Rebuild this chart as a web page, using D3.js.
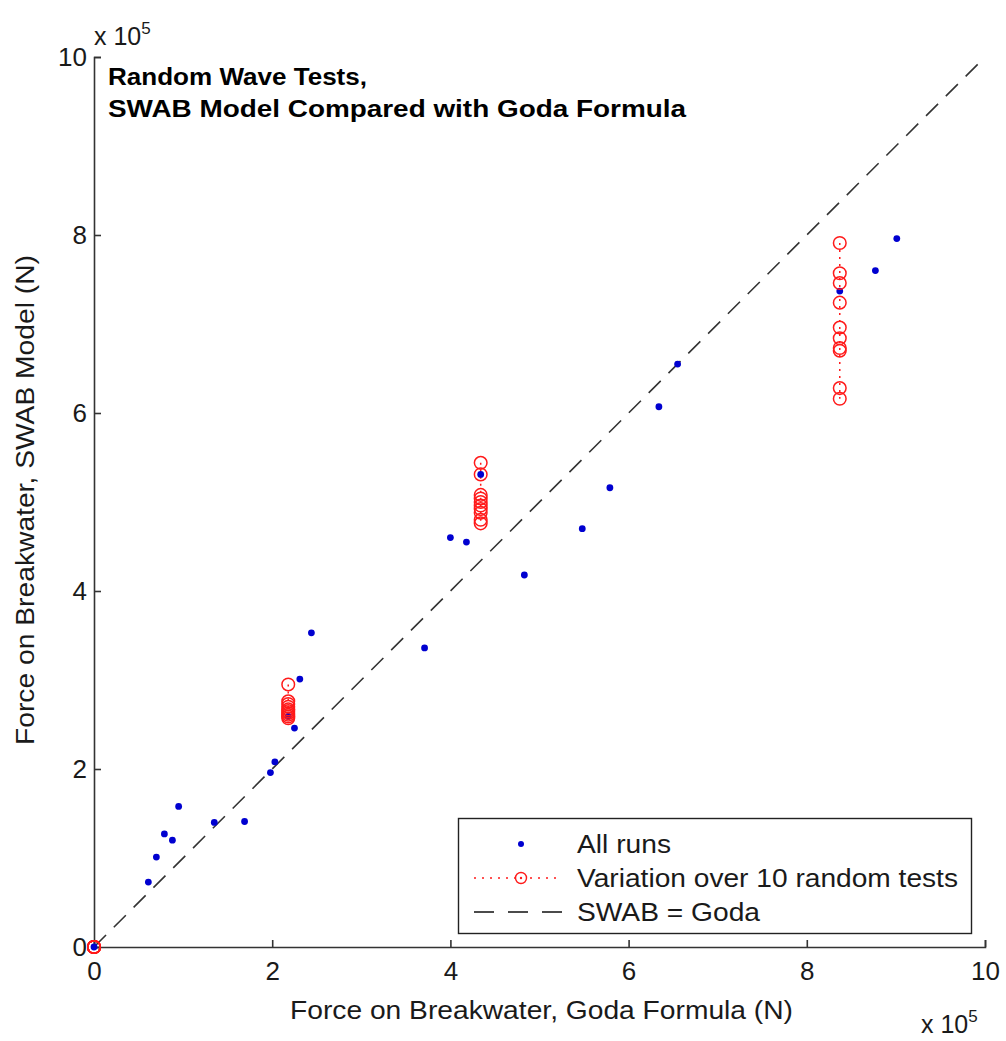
<!DOCTYPE html>
<html>
<head>
<meta charset="utf-8">
<script src="https://cdn.jsdelivr.net/npm/d3@7/dist/d3.min.js"></script>
<style>
  html, body { margin: 0; padding: 0; background: #fff; }
  svg { display: block; font-family: "Liberation Sans", Arial, sans-serif; }
</style>
</head>
<body>
<svg id="chart" width="1006" height="1041"></svg>
<script>
// Goda formula force (x) vs SWAB model force (y), units of 1e5 N
const allRunsX = [0, 0.61, 0.70, 0.79, 0.88, 0.95, 1.35, 1.69, 1.98, 2.03, 2.18, 2.25, 2.31, 2.44,
                  3.71, 4.00, 4.18, 4.34, 4.83, 5.48, 5.79, 6.34, 6.55, 8.37, 8.77, 9.01];
const allRunsY = [0, 0.73, 1.01, 1.27, 1.20, 1.58, 1.40, 1.41, 1.96, 2.08, 2.59, 2.46, 3.01, 3.53,
                  3.36, 4.60, 4.55, 5.31, 4.18, 4.70, 5.16, 6.07, 6.55, 7.37, 7.60, 7.96];

// Repeated random tests (10 each) at four Goda force levels
const variationX = [0, 2.18, 4.34, 8.37];
const variationY = [
  [0, 0, 0, 0, 0, 0, 0, 0, 0, 0],
  [2.95, 2.76, 2.73, 2.70, 2.67, 2.65, 2.63, 2.61, 2.59, 2.57],
  [5.44, 5.31, 5.08, 5.04, 5.00, 4.96, 4.92, 4.88, 4.80, 4.76],
  [7.91, 7.57, 7.46, 7.24, 6.96, 6.84, 6.73, 6.70, 6.28, 6.16]
];

const tickValues = [0, 2, 4, 6, 8, 10];
const legendLabels = ["All runs", "Variation over 10 random tests", "SWAB = Goda"];
const titleLines = ["Random Wave Tests,", "SWAB Model Compared with Goda Formula"];

const svg = d3.select("#chart");
const x = d3.scaleLinear().domain([0, 10]).range([94, 985]);
const y = d3.scaleLinear().domain([0, 10]).range([947, 57]);
const axisColor = "#333";
const textColor = "#1a1a1a";

// Axes with inward ticks
const xAxis = svg.append("g")
  .attr("transform", `translate(0,${y(0)})`)
  .call(d3.axisBottom(x).tickValues(tickValues).tickFormat(d3.format("d"))
        .tickSizeInner(-7).tickSizeOuter(-7).tickPadding(15));
const yAxis = svg.append("g")
  .attr("transform", `translate(${x(0)},0)`)
  .call(d3.axisLeft(y).tickValues(tickValues).tickFormat(d3.format("d"))
        .tickSizeInner(-7).tickSizeOuter(-7).tickPadding(7));

[xAxis, yAxis].forEach(g => {
  g.select(".domain").attr("stroke", axisColor).attr("stroke-width", 1.6);
  g.selectAll(".tick line").attr("stroke", axisColor).attr("stroke-width", 1.6);
  g.selectAll(".tick text").attr("fill", textColor).style("font-size", "26px");
});

// Exponent labels
function exponentLabel(px, py) {
  const t = svg.append("text").attr("x", px).attr("y", py)
    .attr("fill", textColor).style("font-size", "25px");
  t.append("tspan").text("x 10");
  t.append("tspan").attr("dy", -11).style("font-size", "17px").text("5");
}
exponentLabel(94, 45);
exponentLabel(921, 1033);

// Axis titles
svg.append("text")
  .attr("x", 290).attr("y", 1019)
  .attr("textLength", 503).attr("lengthAdjust", "spacingAndGlyphs")
  .attr("fill", textColor).style("font-size", "25px")
  .text("Force on Breakwater, Goda Formula (N)");
svg.append("text")
  .attr("transform", `translate(34,745) rotate(-90)`)
  .attr("textLength", 490).attr("lengthAdjust", "spacingAndGlyphs")
  .attr("fill", textColor).style("font-size", "25px")
  .text("Force on Breakwater, SWAB Model (N)");

// Title
const titleWidths = [259, 578];
svg.append("g").selectAll("text").data(titleLines).join("text")
  .attr("x", 108).attr("y", (d, i) => 85 + i * 32)
  .attr("textLength", (d, i) => titleWidths[i]).attr("lengthAdjust", "spacingAndGlyphs")
  .attr("fill", "#000").style("font-size", "23px").style("font-weight", "bold")
  .text(d => d);

// 1:1 reference line
svg.append("line")
  .attr("x1", x(0)).attr("y1", y(0)).attr("x2", x(10)).attr("y2", y(10))
  .attr("stroke", "#333").attr("stroke-width", 1.6)
  .attr("stroke-dasharray", "17,11");

// Variation groups: dotted vertical connector plus open circles
const red = "#ff1a1a";
const groups = variationX.map((gx, i) => variationY[i].map(v => [gx, v]));
const line = d3.line().x(d => x(d[0])).y(d => y(d[1]));
svg.append("g").selectAll("path").data(groups).join("path")
  .attr("d", line)
  .attr("fill", "none").attr("stroke", red).attr("stroke-width", 1.5)
  .attr("stroke-dasharray", "2,5");

// Blue dots for all runs
const blue = "#0000d0";
svg.append("g").selectAll("circle").data(allRunsX.map((d, i) => [d, allRunsY[i]])).join("circle")
  .attr("cx", d => x(d[0])).attr("cy", d => y(d[1])).attr("r", 3.4)
  .attr("fill", blue);

svg.append("g").selectAll("circle").data(groups.flat()).join("circle")
  .attr("cx", d => x(d[0])).attr("cy", d => y(d[1])).attr("r", 6.3)
  .attr("fill", "none").attr("stroke", red).attr("stroke-width", 1.5);

// Legend
const lg = svg.append("g");
lg.append("rect").attr("x", 458.5).attr("y", 818.5).attr("width", 513).attr("height", 115)
  .attr("fill", "#fff").attr("stroke", "#222").attr("stroke-width", 1.4);
const rowY = [844, 878, 912];
lg.append("circle").attr("cx", 521).attr("cy", rowY[0]).attr("r", 3).attr("fill", blue);
lg.append("line").attr("x1", 474).attr("x2", 562).attr("y1", rowY[1]).attr("y2", rowY[1])
  .attr("stroke", red).attr("stroke-width", 1.4).attr("stroke-dasharray", "2,6");
lg.append("circle").attr("cx", 521).attr("cy", rowY[1]).attr("r", 5.5)
  .attr("fill", "#fff").attr("stroke", red).attr("stroke-width", 1.4);
lg.append("circle").attr("cx", 521).attr("cy", rowY[1]).attr("r", 1.2).attr("fill", red);
lg.append("line").attr("x1", 474).attr("x2", 562).attr("y1", rowY[2]).attr("y2", rowY[2])
  .attr("stroke", "#111").attr("stroke-width", 1.6).attr("stroke-dasharray", "20,14");
const legendWidths = [94, 381, 183];
lg.selectAll("text.lab").data(legendLabels).join("text")
  .attr("class", "lab")
  .attr("x", 577).attr("y", (d, i) => rowY[i] + 9)
  .attr("textLength", (d, i) => legendWidths[i]).attr("lengthAdjust", "spacingAndGlyphs")
  .attr("fill", textColor).style("font-size", "25px")
  .text(d => d);
</script>
</body>
</html>
